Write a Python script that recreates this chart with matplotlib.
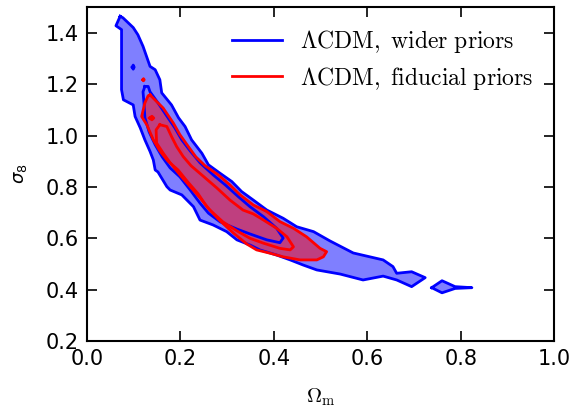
import matplotlib
matplotlib.use("Agg")
import matplotlib.pyplot as plt
from matplotlib.lines import Line2D

# wider priors, 95% region (outer) - Omega_m / sigma_8 vertices
wide95_om = [0.071, 0.062, 0.074, 0.074, 0.078, 0.099, 0.103, 0.114, 0.124, 0.135,
             0.142, 0.146, 0.152, 0.171, 0.178, 0.203, 0.228, 0.242, 0.270, 0.299,
             0.321, 0.349, 0.370, 0.406, 0.435, 0.463, 0.492, 0.542, 0.591, 0.634,
             0.663, 0.695, 0.724, 0.695, 0.663, 0.655, 0.634, 0.570, 0.520, 0.485,
             0.449, 0.420, 0.385, 0.356, 0.331, 0.310, 0.285, 0.260, 0.246, 0.224,
             0.210, 0.196, 0.181, 0.160, 0.156, 0.146, 0.135, 0.120, 0.109, 0.099,
             0.077]
wide95_s8 = [1.464, 1.427, 1.412, 1.178, 1.139, 1.119, 1.074, 1.030, 0.983, 0.938,
             0.905, 0.866, 0.858, 0.801, 0.788, 0.769, 0.723, 0.671, 0.652, 0.626,
             0.594, 0.574, 0.555, 0.535, 0.516, 0.496, 0.477, 0.461, 0.438, 0.453,
             0.438, 0.412, 0.447, 0.470, 0.464, 0.490, 0.516, 0.543, 0.590, 0.626,
             0.645, 0.678, 0.710, 0.749, 0.782, 0.821, 0.853, 0.886, 0.931, 0.983,
             1.035, 1.069, 1.119, 1.166, 1.217, 1.256, 1.269, 1.347, 1.392, 1.420,
             1.458]
# small detached islands of the wider-priors contours
wide95_tail_om = [0.738, 0.760, 0.788, 0.824, 0.788, 0.760]
wide95_tail_s8 = [0.408, 0.435, 0.412, 0.408, 0.405, 0.388]
wide68_dot_om = [0.097, 0.099, 0.101, 0.099]
wide68_dot_s8 = [1.266, 1.274, 1.266, 1.258]

# wider priors, 68% region
wide68_om = [0.124, 0.131, 0.135, 0.152, 0.169, 0.188, 0.203, 0.221, 0.242, 0.270,
             0.296, 0.324, 0.349, 0.378, 0.406, 0.420, 0.413, 0.385, 0.349, 0.321,
             0.285, 0.260, 0.242, 0.221, 0.199, 0.178, 0.161, 0.146, 0.133, 0.124,
             0.122, 0.120]
wide68_s8 = [1.191, 1.191, 1.170, 1.127, 1.081, 1.030, 0.983, 0.940, 0.894, 0.847,
             0.808, 0.762, 0.723, 0.684, 0.639, 0.601, 0.583, 0.594, 0.617, 0.636,
             0.664, 0.698, 0.737, 0.788, 0.839, 0.874, 0.917, 0.964, 1.014, 1.069,
             1.127, 1.170]

# fiducial priors, 95% region
fid95_om = [0.135, 0.163, 0.185, 0.199, 0.217, 0.233, 0.253, 0.281, 0.306, 0.328,
            0.356, 0.385, 0.413, 0.442, 0.470, 0.499, 0.513, 0.506, 0.492, 0.456,
            0.420, 0.392, 0.363, 0.342, 0.313, 0.285, 0.257, 0.238, 0.216, 0.195,
            0.173, 0.156, 0.142, 0.128, 0.117, 0.124, 0.131]
fid95_s8 = [1.158, 1.107, 1.048, 1.003, 0.957, 0.917, 0.882, 0.847, 0.808, 0.769,
            0.730, 0.704, 0.665, 0.639, 0.606, 0.561, 0.548, 0.528, 0.516, 0.516,
            0.528, 0.542, 0.555, 0.578, 0.621, 0.668, 0.722, 0.773, 0.819, 0.866,
            0.901, 0.940, 0.983, 1.042, 1.074, 1.127, 1.155]
fid95_dot_om = [0.1195, 0.121, 0.1225, 0.121]
fid95_dot_s8 = [1.217, 1.221, 1.217, 1.213]

# fiducial priors, 68% region
fid68_om = [0.156, 0.171, 0.181, 0.192, 0.206, 0.223, 0.248, 0.278, 0.306, 0.334,
            0.356, 0.378, 0.406, 0.428, 0.442, 0.435, 0.413, 0.378, 0.349, 0.321,
            0.291, 0.263, 0.242, 0.221, 0.199, 0.178, 0.163, 0.149, 0.148]
fid68_s8 = [1.042, 1.035, 0.996, 0.957, 0.918, 0.882, 0.843, 0.796, 0.749, 0.710,
            0.695, 0.671, 0.639, 0.606, 0.567, 0.555, 0.561, 0.581, 0.600, 0.629,
            0.664, 0.710, 0.757, 0.801, 0.847, 0.894, 0.932, 0.971, 1.022]
fid68_dot_om = [0.134, 0.139, 0.143, 0.139]
fid68_dot_s8 = [1.068, 1.075, 1.068, 1.061]

labels = [r"$\Lambda\mathrm{CDM},\ \mathrm{wider\ priors}$",
          r"$\Lambda\mathrm{CDM},\ \mathrm{fiducial\ priors}$"]


def closed(xs, ys):
    return list(xs) + [xs[0]], list(ys) + [ys[0]]


fig = plt.figure(figsize=(5.76, 4.12), dpi=100)
ax = fig.add_axes([0.151, 0.172, 0.811, 0.811])

# filled regions
ax.fill(wide95_om, wide95_s8, color="blue", alpha=0.5, lw=0)
ax.fill(wide95_tail_om, wide95_tail_s8, color="blue", alpha=0.5, lw=0)
ax.fill(fid95_om, fid95_s8, color="red", alpha=0.5, lw=0)

# contour lines
for xs, ys in [(wide95_om, wide95_s8), (wide95_tail_om, wide95_tail_s8),
               (wide68_om, wide68_s8), (wide68_dot_om, wide68_dot_s8)]:
    cx, cy = closed(xs, ys)
    ax.plot(cx, cy, color="blue", lw=2)
for xs, ys in [(fid95_om, fid95_s8), (fid68_om, fid68_s8),
               (fid95_dot_om, fid95_dot_s8), (fid68_dot_om, fid68_dot_s8)]:
    cx, cy = closed(xs, ys)
    ax.plot(cx, cy, color="red", lw=2)

ax.set_xlim(0.0, 1.0)
ax.set_ylim(0.2, 1.5)
ax.set_xticks([0.0, 0.2, 0.4, 0.6, 0.8, 1.0])
ax.set_yticks([0.2, 0.4, 0.6, 0.8, 1.0, 1.2, 1.4])
ax.tick_params(direction="in", top=True, right=True, length=7, width=1.2,
               labelsize=15, pad=6)
for sp in ax.spines.values():
    sp.set_linewidth(1.5)

ax.set_xlabel(r"$\Omega_{\rm m}$", fontsize=15, math_fontfamily="cm", labelpad=12)
ax.set_ylabel(r"$\sigma_8$", fontsize=13, labelpad=12)

handles = [Line2D([], [], color="blue", lw=2), Line2D([], [], color="red", lw=2)]
leg = ax.legend(handles, labels, loc="upper right", frameon=False,
                fontsize=17, handlelength=2.1, handletextpad=0.75,
                labelspacing=0.4)
for t in leg.get_texts():
    t.set_math_fontfamily("cm")

fig.savefig("out.png", dpi=100)
